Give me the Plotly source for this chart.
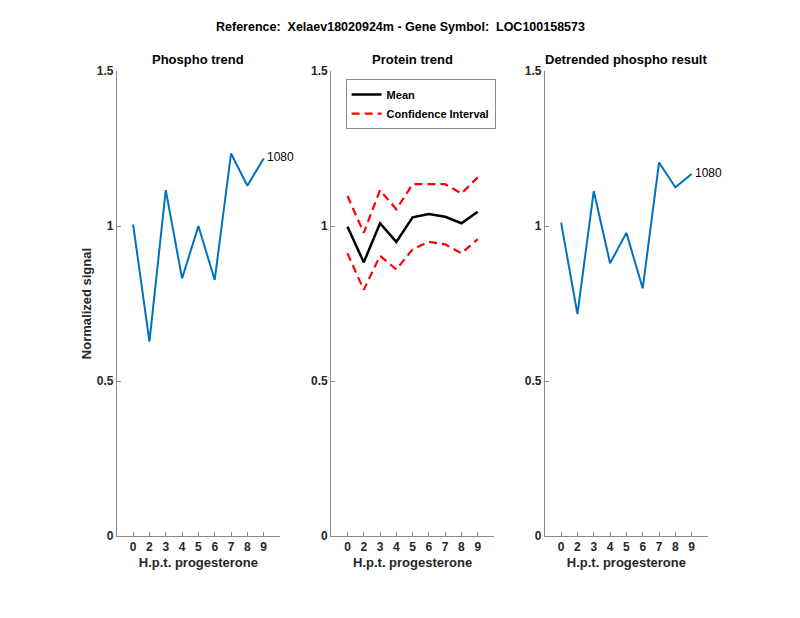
import plotly.graph_objects as go

categories = ["0", "2", "3", "4", "5", "6", "7", "8", "9"]
phospho = [1.005, 0.627, 1.116, 0.831, 1.0, 0.826, 1.234, 1.130, 1.218]
protein_mean = [0.998, 0.883, 1.009, 0.949, 1.028, 1.039, 1.030, 1.009, 1.046]
protein_upper = [1.097, 0.978, 1.116, 1.054, 1.135, 1.135, 1.135, 1.105, 1.157]
protein_lower = [0.912, 0.794, 0.904, 0.860, 0.925, 0.949, 0.941, 0.912, 0.958]
detrended = [1.011, 0.716, 1.113, 0.880, 0.978, 0.799, 1.205, 1.125, 1.168]
peptide_label = "1080"
y_ticks = [0, 0.5, 1, 1.5]
y_ticktext = ["0", "0.5", "1", "1.5"]

BLUE = "#0072BD"
FONT = "Liberation Sans, Arial, sans-serif"
TXT = "#262626"
AX = "#8a8a8a"
DASH = "8px,5px"

fig = go.Figure()

fig.add_trace(go.Scatter(x=categories, y=phospho, mode="lines", line=dict(color=BLUE, width=2),
                         showlegend=False, xaxis="x", yaxis="y"))
fig.add_trace(go.Scatter(x=categories, y=protein_mean, mode="lines", line=dict(color="black", width=2.5),
                         name="<b>Mean</b>", xaxis="x2", yaxis="y2"))
fig.add_trace(go.Scatter(x=categories, y=protein_upper, mode="lines",
                         line=dict(color="red", width=2.2, dash=DASH),
                         name="<b>Confidence Interval</b>", xaxis="x2", yaxis="y2"))
fig.add_trace(go.Scatter(x=categories, y=protein_lower, mode="lines",
                         line=dict(color="red", width=2.2, dash=DASH),
                         showlegend=False, xaxis="x2", yaxis="y2"))
fig.add_trace(go.Scatter(x=categories, y=detrended, mode="lines", line=dict(color=BLUE, width=2),
                         showlegend=False, xaxis="x3", yaxis="y3"))

# peptide labels next to last point
fig.add_trace(go.Scatter(x=[categories[-1]], y=[phospho[-1]], mode="text", text=[" " + peptide_label],
                         textposition="middle right", textfont=dict(family=FONT, size=12, color="black"),
                         showlegend=False, xaxis="x", yaxis="y", cliponaxis=False))
fig.add_trace(go.Scatter(x=[categories[-1]], y=[detrended[-1]], mode="text", text=[" " + peptide_label],
                         textposition="middle right", textfont=dict(family=FONT, size=12, color="black"),
                         showlegend=False, xaxis="x3", yaxis="y3", cliponaxis=False))

domains = [(0.146, 0.35), (0.414, 0.6175), (0.681, 0.885)]
ydom = (0.1327, 0.885)

def xax(dom, anchor):
    return dict(domain=list(dom), anchor=anchor, type="category", range=[-1, 9], automargin=False,
                categoryorder="array", categoryarray=categories,
                showline=True, linecolor=AX, linewidth=1, ticks="inside", ticklen=4,
                tickcolor=AX, showgrid=False, zeroline=False,
                tickfont=dict(family=FONT, size=12, color=TXT, weight="bold"),
                title=dict(text="<b>H.p.t. progesterone</b>", font=dict(family=FONT, size=13, color=TXT), standoff=4))

def yax(anchor, title=None):
    d = dict(domain=list(ydom), anchor=anchor, range=[0, 1.5], tickvals=y_ticks, ticktext=y_ticktext,
             automargin=False,
             showline=True, linecolor=AX, linewidth=1, ticks="inside", ticklen=4, tickcolor=AX,
             showgrid=False, zeroline=False, tickfont=dict(family=FONT, size=12, color=TXT, weight="bold"))
    if title:
        d["title"] = dict(text="<b>" + title + "</b>", font=dict(family=FONT, size=13, color=TXT), standoff=2)
    return d

fig.update_layout(
    width=800, height=618,
    margin=dict(l=0, r=0, t=0, b=0, autoexpand=False),
    paper_bgcolor="white", plot_bgcolor="white",
    xaxis=xax(domains[0], "y"), yaxis=yax("x", "Normalized signal"),
    xaxis2=xax(domains[1], "y2"), yaxis2=yax("x2"),
    xaxis3=xax(domains[2], "y3"), yaxis3=yax("x3"),
    legend=dict(x=0.432, y=0.872, xanchor="left", yanchor="top", bgcolor="white",
                bordercolor=AX, borderwidth=1, font=dict(family=FONT, size=11, color="black"),
                tracegroupgap=0, itemwidth=30),
    font=dict(family=FONT),
)

titles = ["Phospho trend", "Protein trend", "Detrended phospho result"]
for (d0, d1), t in zip(domains, titles):
    fig.add_annotation(x=(d0 + d1) / 2, y=1 - 60 / 618, xref="paper", yref="paper", text="<b>" + t + "</b>",
                       showarrow=False, font=dict(family=FONT, size=13, color="black"),
                       xanchor="center", yanchor="middle")
fig.add_annotation(x=0.5, y=1 - 27 / 618, xref="paper", yref="paper",
                   text="<b>Reference:  Xelaev18020924m - Gene Symbol:  LOC100158573</b>",
                   showarrow=False, font=dict(family=FONT, size=12.5, color="black"),
                   xanchor="center", yanchor="middle")

fig.write_html("out.html", config={"displayModeBar": False},
               post_script="document.body.style.margin='0';")
